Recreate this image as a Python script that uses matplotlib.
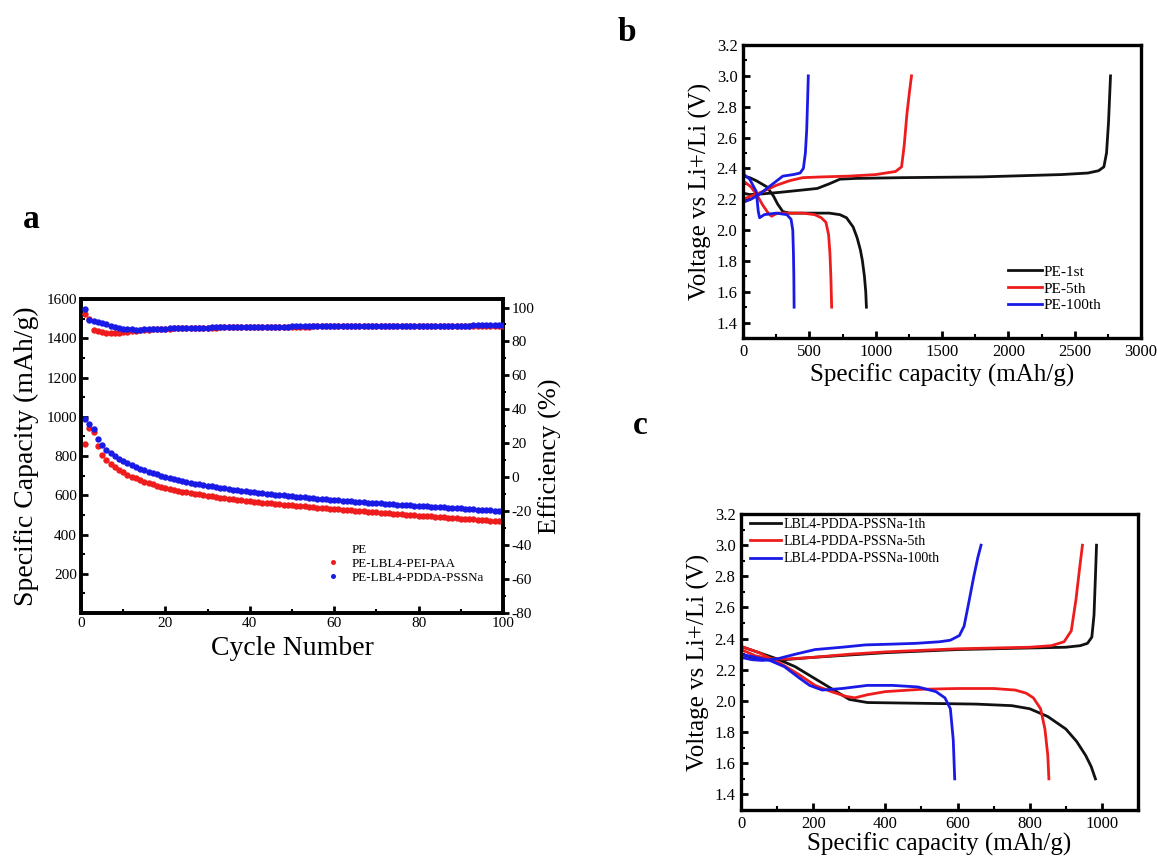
import matplotlib
matplotlib.use("Agg")
import matplotlib.pyplot as plt
from matplotlib.lines import Line2D
from matplotlib.ticker import MultipleLocator, FormatStrFormatter

plt.rcParams['font.family'] = ['Liberation Serif', 'DejaVu Serif']
plt.rcParams['mathtext.fontset'] = 'stix'
plt.rcParams['axes.unicode_minus'] = False

# ---------------- Panel a data ----------------
cycles = list(range(1, 101))
cap_pdda = [990, 965, 938, 885, 855, 832, 814, 799, 786, 774,
            763, 753, 744, 735, 727, 720, 713, 706, 700, 694,
            688, 683, 678, 673, 668, 664, 660, 656, 652, 648,
            645, 641, 638, 635, 632, 629, 626, 623, 620, 618,
            615, 613, 610, 608, 606, 603, 601, 599, 597, 595,
            593, 591, 589, 587, 585, 583, 581, 580, 578, 576,
            574, 573, 571, 569, 568, 566, 565, 563, 562, 560,
            559, 557, 556, 554, 553, 551, 550, 549, 547, 546,
            545, 543, 542, 541, 539, 538, 537, 535, 534, 533,
            531, 530, 529, 527, 526, 525, 523, 522, 521, 519]
cap_pei = [860, 945, 922, 852, 805, 780, 760, 744, 730, 717,
           705, 695, 686, 677, 669, 662, 655, 649, 643, 638,
           633, 628, 623, 619, 615, 611, 607, 604, 600, 597,
           594, 591, 588, 585, 582, 580, 577, 575, 572, 570,
           568, 565, 563, 561, 559, 557, 555, 553, 551, 549,
           547, 545, 543, 541, 539, 537, 535, 534, 532, 530,
           528, 526, 525, 523, 521, 519, 518, 516, 514, 513,
           511, 509, 508, 506, 504, 503, 501, 500, 498, 496,
           495, 493, 492, 490, 489, 487, 486, 484, 483, 481,
           480, 478, 477, 475, 474, 472, 471, 469, 468, 464]
eff_pdda = [99.0, 92.5, 92.0, 91.3, 90.6, 90.0, 89.3, 88.7, 88.1, 87.6,
            87.3, 87.1, 87.0, 87.0, 87.1, 87.2, 87.3, 87.4, 87.5, 87.6,
            87.7, 87.8, 87.8, 87.9, 88.0, 88.0, 88.1, 88.1, 88.2, 88.2,
            88.3, 88.3, 88.4, 88.4, 88.4, 88.5, 88.5, 88.5, 88.6, 88.6,
            88.6, 88.7, 88.7, 88.7, 88.7, 88.8, 88.8, 88.8, 88.8, 88.9,
            88.9, 88.9, 88.9, 88.9, 89.0, 89.0, 89.0, 89.0, 89.0, 89.1,
            89.1, 89.1, 89.1, 89.1, 89.2, 89.2, 89.2, 89.2, 89.2, 89.2,
            89.3, 89.3, 89.3, 89.3, 89.3, 89.3, 89.3, 89.3, 89.3, 89.3,
            89.3, 89.4, 89.4, 89.4, 89.4, 89.4, 89.4, 89.4, 89.4, 89.4,
            89.4, 89.4, 89.5, 89.5, 89.5, 89.5, 89.5, 89.5, 89.5, 89.5]
eff_pei = [96.0, 93.0, 86.6, 86.0, 85.5, 85.1, 84.9, 84.9, 85.0, 85.3,
           85.7, 86.0, 86.3, 86.6, 86.8, 87.0, 87.1, 87.2, 87.3, 87.4,
           87.6, 87.7, 87.7, 87.8, 87.9, 87.9, 88.0, 88.0, 88.1, 88.1,
           88.2, 88.2, 88.3, 88.3, 88.3, 88.4, 88.4, 88.4, 88.5, 88.5,
           88.5, 88.6, 88.6, 88.6, 88.6, 88.7, 88.7, 88.7, 88.7, 88.8,
           88.8, 88.8, 88.8, 88.8, 88.9, 88.9, 88.9, 88.9, 88.9, 89.0,
           89.0, 89.0, 89.0, 89.0, 89.1, 89.1, 89.1, 89.1, 89.1, 89.1,
           89.2, 89.2, 89.2, 89.2, 89.2, 89.2, 89.2, 89.2, 89.2, 89.2,
           89.2, 89.3, 89.3, 89.3, 89.3, 89.3, 89.3, 89.3, 89.3, 89.3,
           89.3, 89.3, 89.4, 89.4, 89.4, 89.4, 89.4, 89.4, 89.4, 89.4]
legend_a = ["PE", "PE-LBL4-PEI-PAA", "PE-LBL4-PDDA-PSSNa"]

# ---------------- Panel b data (PE) ----------------
b_labels = ["PE-1st", "PE-5th", "PE-100th"]
b1_dis_c = [0, 50, 100, 180, 230, 260, 300, 350, 500, 650, 730, 780, 830, 860, 885, 900, 915, 925, 930]
b1_dis_v = [2.35, 2.34, 2.32, 2.28, 2.22, 2.17, 2.12, 2.11, 2.11, 2.11, 2.10, 2.08, 2.02, 1.95, 1.87, 1.80, 1.70, 1.60, 1.50]
b1_chg_c = [0, 50, 150, 280, 450, 560, 650, 730, 850, 1200, 1800, 2400, 2600, 2680, 2720, 2740, 2755, 2765, 2770]
b1_chg_v = [2.24, 2.23, 2.235, 2.245, 2.26, 2.27, 2.30, 2.33, 2.335, 2.34, 2.345, 2.36, 2.37, 2.385, 2.41, 2.50, 2.70, 2.90, 3.00]
b5_dis_c = [0, 60, 110, 150, 190, 215, 260, 350, 450, 540, 590, 625, 645, 655, 662, 668]
b5_dis_v = [2.32, 2.28, 2.22, 2.16, 2.11, 2.09, 2.11, 2.11, 2.11, 2.10, 2.08, 2.05, 1.97, 1.85, 1.70, 1.50]
b5_chg_c = [0, 60, 150, 250, 350, 450, 600, 800, 1000, 1150, 1195, 1215, 1235, 1255, 1270]
b5_chg_v = [2.20, 2.22, 2.25, 2.29, 2.32, 2.34, 2.345, 2.35, 2.36, 2.38, 2.41, 2.55, 2.75, 2.90, 3.00]
b100_dis_c = [0, 3, 8, 50, 100, 115, 125, 160, 250, 330, 362, 375, 380, 383, 385]
b100_dis_v = [2.75, 2.45, 2.36, 2.33, 2.25, 2.12, 2.08, 2.10, 2.11, 2.10, 2.07, 2.00, 1.85, 1.70, 1.50]
b100_chg_c = [0, 60, 120, 180, 240, 300, 380, 430, 455, 470, 480, 487, 492]
b100_chg_v = [2.18, 2.20, 2.23, 2.27, 2.31, 2.35, 2.36, 2.37, 2.40, 2.50, 2.65, 2.85, 3.00]

# ---------------- Panel c data (LBL4-PDDA-PSSNa) ----------------
c_labels = ["LBL4-PDDA-PSSNa-1th", "LBL4-PDDA-PSSNa-5th", "LBL4-PDDA-PSSNa-100th"]
c1_dis_c = [0, 50, 100, 150, 200, 250, 300, 350, 500, 650, 750, 800, 850, 900, 930, 955, 970, 982]
c1_dis_v = [2.35, 2.31, 2.27, 2.22, 2.15, 2.08, 2.01, 1.99, 1.985, 1.98, 1.97, 1.95, 1.90, 1.82, 1.74, 1.65, 1.58, 1.50]
c1_chg_c = [0, 30, 70, 120, 200, 300, 400, 500, 600, 700, 800, 900, 940, 960, 972, 978, 982, 985]
c1_chg_v = [2.30, 2.28, 2.265, 2.265, 2.28, 2.295, 2.31, 2.32, 2.33, 2.335, 2.34, 2.345, 2.355, 2.37, 2.41, 2.55, 2.80, 3.00]
c5_dis_c = [0, 50, 110, 160, 205, 250, 290, 315, 350, 400, 500, 600, 700, 760, 790, 810, 830, 842, 850, 853]
c5_dis_v = [2.35, 2.31, 2.24, 2.17, 2.10, 2.06, 2.03, 2.02, 2.04, 2.06, 2.075, 2.08, 2.08, 2.07, 2.05, 2.02, 1.95, 1.82, 1.65, 1.50]
c5_chg_c = [0, 40, 80, 130, 200, 300, 400, 500, 600, 700, 800, 860, 895, 915, 928, 938, 946]
c5_chg_v = [2.33, 2.29, 2.27, 2.27, 2.28, 2.30, 2.315, 2.325, 2.335, 2.34, 2.345, 2.355, 2.38, 2.45, 2.65, 2.85, 3.00]
c100_dis_c = [0, 40, 80, 120, 160, 190, 225, 280, 350, 420, 490, 540, 565, 580, 588, 592]
c100_dis_v = [2.30, 2.28, 2.26, 2.22, 2.15, 2.10, 2.07, 2.08, 2.10, 2.10, 2.09, 2.06, 2.02, 1.95, 1.75, 1.50]
c100_chg_c = [0, 30, 60, 100, 150, 205, 280, 345, 420, 485, 550, 580, 605, 618, 630, 645, 656, 665]
c100_chg_v = [2.28, 2.265, 2.26, 2.27, 2.30, 2.33, 2.345, 2.36, 2.365, 2.37, 2.38, 2.39, 2.42, 2.48, 2.62, 2.80, 2.92, 3.00]

BLACK = '#111111'
RED = '#ee1c1c'
BLUE = '#1a1ae6'

fig = plt.figure(figsize=(11.57, 8.61), dpi=100)


def style_axes(ax, lw=2.2):
    for s in ax.spines.values():
        s.set_linewidth(lw)
    ax.tick_params(which='major', direction='in', length=5, width=2, top=False, right=False)
    ax.tick_params(which='minor', direction='in', length=3, width=1.5, top=False, right=False)


MS = 4.6

# ---------------- Panel a ----------------
axa = fig.add_axes([0.0700, 0.2880, 0.3647, 0.3647])
axa2 = axa.twinx()
axa.plot(cycles, cap_pei, 'o', color=RED, ms=MS, mec='none', zorder=3)
axa.plot(cycles, cap_pdda, 'o', color=BLUE, ms=MS, mec='none', zorder=4)
axa2.plot(cycles, eff_pei, 'o', color=RED, ms=MS, mec='none', zorder=3)
axa2.plot(cycles, eff_pdda, 'o', color=BLUE, ms=MS, mec='none', zorder=4)
axa.set_xlim(0, 100)
axa.set_ylim(0, 1600)
axa2.set_ylim(-80, 105)
axa.set_xticks([0, 20, 40, 60, 80, 100])
axa.xaxis.set_minor_locator(MultipleLocator(10))
axa.set_yticks([200, 400, 600, 800, 1000, 1200, 1400, 1600])
axa.yaxis.set_minor_locator(MultipleLocator(100))
axa2.set_yticks(list(range(-80, 101, 20)))
axa2.yaxis.set_minor_locator(MultipleLocator(10))
style_axes(axa, 2.6)
for s in axa2.spines.values():
    s.set_linewidth(2.6)
axa.tick_params(labelsize=11, pad=3)
axa2.tick_params(which='major', direction='out', length=4, width=2, labelsize=11, pad=2)
axa2.tick_params(which='minor', direction='out', length=2.5, width=1.5)
axa.set_xlabel("Cycle Number", fontsize=20, labelpad=4)
axa.set_ylabel("Specific Capacity (mAh/g)", fontsize=20, labelpad=5)
axa2.set_ylabel("Efficiency (%)", fontsize=19, labelpad=3)
handles_a = [Line2D([], [], linestyle='none', marker=''),
             Line2D([], [], linestyle='none', marker='o', color=RED, ms=3.6, mec='none'),
             Line2D([], [], linestyle='none', marker='o', color=BLUE, ms=3.6, mec='none')]
axa2.legend(handles_a, legend_a, loc='upper left', bbox_to_anchor=(0.582, 0.221),
            frameon=False, fontsize=9.4, handlelength=1.0, handletextpad=0.9,
            labelspacing=0.15, borderpad=0, borderaxespad=0)

# ---------------- Panel b ----------------
axb = fig.add_axes([0.6422, 0.6074, 0.3440, 0.3403])
lw = 2.0
axb.plot(b1_chg_c, b1_chg_v, color=BLACK, lw=lw)
axb.plot(b1_dis_c, b1_dis_v, color=BLACK, lw=lw, label=b_labels[0])
axb.plot(b5_chg_c, b5_chg_v, color=RED, lw=lw)
axb.plot(b5_dis_c, b5_dis_v, color=RED, lw=lw, label=b_labels[1])
axb.plot(b100_chg_c, b100_chg_v, color=BLUE, lw=lw)
axb.plot(b100_dis_c, b100_dis_v, color=BLUE, lw=lw, label=b_labels[2])
axb.set_xlim(0, 3000)
axb.set_ylim(1.3, 3.2)
axb.xaxis.set_major_locator(MultipleLocator(500))
axb.xaxis.set_minor_locator(MultipleLocator(250))
axb.set_yticks([1.4, 1.6, 1.8, 2.0, 2.2, 2.4, 2.6, 2.8, 3.0, 3.2])
axb.yaxis.set_minor_locator(MultipleLocator(0.1))
axb.yaxis.set_major_formatter(FormatStrFormatter('%.1f'))
style_axes(axb, 2.4)
axb.tick_params(labelsize=12, pad=4)
axb.set_xlabel("Specific capacity (mAh/g)", fontsize=18, labelpad=3)
axb.set_ylabel("Voltage vs Li+/Li (V)", fontsize=18, labelpad=3)
axb.legend(loc='upper left', bbox_to_anchor=(0.666, 0.249), frameon=False, fontsize=11,
           handlelength=2.2, handletextpad=0.1, labelspacing=0.2, borderpad=0, borderaxespad=0)

# ---------------- Panel c ----------------
axc = fig.add_axes([0.6405, 0.0592, 0.3431, 0.3438])
axc.plot(c1_chg_c, c1_chg_v, color=BLACK, lw=lw)
axc.plot(c1_dis_c, c1_dis_v, color=BLACK, lw=lw, label=c_labels[0])
axc.plot(c5_chg_c, c5_chg_v, color=RED, lw=lw)
axc.plot(c5_dis_c, c5_dis_v, color=RED, lw=lw, label=c_labels[1])
axc.plot(c100_chg_c, c100_chg_v, color=BLUE, lw=lw)
axc.plot(c100_dis_c, c100_dis_v, color=BLUE, lw=lw, label=c_labels[2])
axc.set_xlim(0, 1100)
axc.set_ylim(1.3, 3.2)
axc.xaxis.set_major_locator(MultipleLocator(200))
axc.xaxis.set_minor_locator(MultipleLocator(100))
axc.set_yticks([1.4, 1.6, 1.8, 2.0, 2.2, 2.4, 2.6, 2.8, 3.0, 3.2])
axc.yaxis.set_minor_locator(MultipleLocator(0.1))
axc.yaxis.set_major_formatter(FormatStrFormatter('%.1f'))
style_axes(axc, 2.4)
axc.tick_params(labelsize=12, pad=4)
axc.set_xlabel("Specific capacity (mAh/g)", fontsize=18, labelpad=1)
axc.set_ylabel("Voltage vs Li+/Li (V)", fontsize=18, labelpad=3)
axc.legend(loc='upper left', bbox_to_anchor=(0.023, 0.986), frameon=False, fontsize=10,
           handlelength=2.2, handletextpad=0.2, labelspacing=0.3, borderpad=0, borderaxespad=0)

# ---------------- Panel letters ----------------
fig.text(0.0268, 0.7445, "a", fontsize=24, fontweight='bold', ha='center', va='center')
fig.text(0.542, 0.962, "b", fontsize=24, fontweight='bold', ha='center', va='center')
fig.text(0.553, 0.506, "c", fontsize=24, fontweight='bold', ha='center', va='center')

fig.savefig("out.png", dpi=100)
